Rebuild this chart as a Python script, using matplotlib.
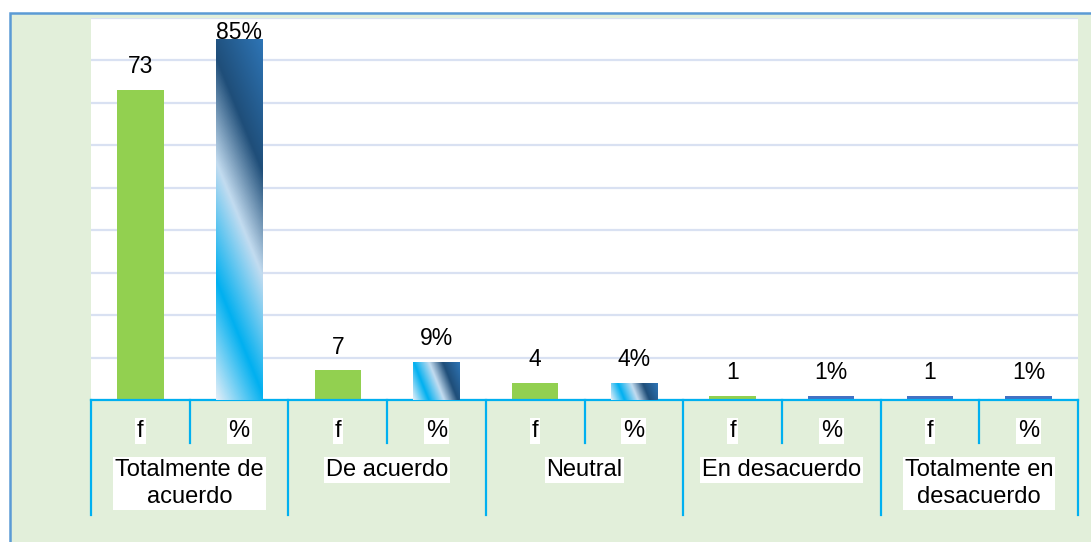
import numpy as np
import matplotlib
matplotlib.use('Agg')
import matplotlib.pyplot as plt
from matplotlib.colors import LinearSegmentedColormap
from matplotlib.patches import Rectangle
from matplotlib.transforms import blended_transform_factory

# data
groups = ['Totalmente de\nacuerdo', 'De acuerdo', 'Neutral', 'En desacuerdo', 'Totalmente en\ndesacuerdo']
sub_labels = ['f', '%']
f_vals = [73, 7, 4, 1, 1]
pct_vals = [85, 9, 4, 1, 1]
f_text = ['73', '7', '4', '1', '1']
pct_text = ['85%', '9%', '4%', '1%', '1%']

# colours
PANEL_BG = '#E2EFDA'
BORDER = '#5B9BD5'
GREEN = '#92D050'
BLUE = '#4472C4'
AXIS_C = '#00B0F0'
GRID_C = '#D9E1F2'
f_colors = [GREEN, GREEN, GREEN, GREEN, BLUE]
grad = LinearSegmentedColormap.from_list('bluegrad', [
    (0.0, '#E3EEF8'), (0.25, '#00B0F0'), (0.5, '#C3DCF0'),
    (0.72, '#1F4E79'), (1.0, '#2E75B6')])

plt.rcParams['font.family'] = 'Liberation Sans'

W, H = 1091, 542
fig = plt.figure(figsize=(W / 100, H / 100), dpi=100, facecolor='white')


def fx(px):
    return px / W


def fy(py):
    return 1 - py / H


# light green panel with blue frame (cropped on right/bottom)
fig.add_artist(Rectangle((fx(10), -0.1), 1.2, fy(13) + 0.1, transform=fig.transFigure,
                         facecolor=PANEL_BG, edgecolor=BORDER, lw=1.8, zorder=-10))

ax = fig.add_axes((fx(91), fy(400), fx(1078) - fx(91), fy(17.5) - fy(400)))
ax.set_facecolor('white')
ax.set_xlim(-0.5, 2 * len(groups) - 0.5)
ax.set_ylim(0, 90)
ax.set_yticks(range(0, 91, 10))
ax.set_yticklabels([])
ax.set_xticks([])
ax.tick_params(length=0)
ax.grid(axis='y', color=GRID_C, lw=1.6)
ax.set_axisbelow(True)
for s in ['top', 'left', 'right']:
    ax.spines[s].set_visible(False)
ax.spines['bottom'].set_color(AXIS_C)
ax.spines['bottom'].set_linewidth(1.6)

bw = 0.47
xf = np.arange(len(groups)) * 2
xp = xf + 1

ax.bar(xf, f_vals, width=bw, color=f_colors, zorder=2)
pct_bars = ax.bar(xp, pct_vals, width=bw, color=BLUE, zorder=2)

# gradient fill for the % bars (skip the tiny 1% ones, they render flat blue)
for bar, v in zip(pct_bars, pct_vals):
    if v <= 1:
        continue
    x0 = bar.get_x()
    x1 = x0 + bar.get_width()
    (px0, py0), (px1, py1) = ax.transData.transform([(x0, 0), (x1, v)])
    w_px, h_px = px1 - px0, py1 - py0
    X, Y = np.meshgrid(np.linspace(0, w_px, 80), np.linspace(0, h_px, 300))
    T = (2.46 * X + Y) / (2.46 * w_px + h_px)
    im = ax.imshow(T, cmap=grad, extent=(x0, x1, 0, v), origin='lower',
                   aspect='auto', interpolation='bilinear', zorder=3, vmin=0, vmax=1)
    im.set_clip_path(bar)
ax.set_xlim(-0.5, 2 * len(groups) - 0.5)
ax.set_ylim(0, 90)

# value labels above bars
px_per_unit = (ax.transData.transform((0, 1))[1] - ax.transData.transform((0, 0))[1])
ax_h = ax.transData.transform((0, 90))[1] - ax.transData.transform((0, 0))[1]
for xs, vals, txts in [(xf, f_vals, f_text), (xp, pct_vals, pct_text)]:
    for x, v, t in zip(xs, vals, txts):
        off = 12
        if v * px_per_unit + 34 > ax_h:
            off = 0
        ax.annotate(t, (x, v), xytext=(0, off), textcoords='offset points',
                    ha='center', va='baseline', fontsize=16.5, color='black', zorder=5)

# multi-level category axis below the plot
trans = blended_transform_factory(ax.transData, fig.transFigure)
box = dict(boxstyle='square,pad=0.08', fc='white', ec='none')
for i in range(2 * len(groups)):
    ax.text(i, fy(437), sub_labels[i % 2], transform=trans, ha='center', va='baseline',
            fontsize=17, bbox=box, clip_on=False)
for i, g in enumerate(groups):
    ax.text(2 * i + 0.5, fy(459), g, transform=trans, ha='center', va='top',
            fontsize=17, linespacing=1.32, bbox=box, clip_on=False)

for i in range(len(groups) + 1):
    xb = 2 * i - 0.5
    ax.plot([xb, xb], [fy(400), fy(515)], transform=trans, color=AXIS_C, lw=1.6, clip_on=False)
for i in range(len(groups)):
    xb = 2 * i + 0.5
    ax.plot([xb, xb], [fy(400), fy(443)], transform=trans, color=AXIS_C, lw=1.6, clip_on=False)

fig.savefig('out.png', dpi=100, facecolor='white')
